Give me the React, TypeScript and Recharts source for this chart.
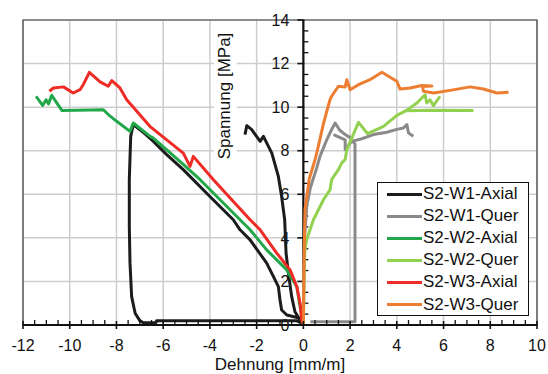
import React from "react";
import {
  LineChart,
  Line,
  XAxis,
  YAxis,
  CartesianGrid,
  ReferenceLine,
  ReferenceArea,
  Label,
} from "recharts";

type Pair = [number, number | null];

// Dehnung [mm/m] / Spannung [MPa]
const w1Axial: Pair[] = [
  [0, 0], [-0.14, 0.31], [-0.71, 0.46], [-0.93, 0.69], [-1.0, 1.15], [-1.07, 1.76],
  [-1.28, 2.22], [-1.57, 2.84], [-2.28, 3.91], [-2.71, 4.37], [-3.0, 4.83], [-4.0, 5.9],
  [-5.14, 7.13], [-5.85, 7.82], [-6.42, 8.43], [-6.8, 8.8], [-7.1, 9.05], [-7.28, 9.2],
  [-7.39, 8.66], [-7.45, 6.67], [-7.45, 4.5], [-7.42, 2.84], [-7.35, 1.3], [-7.2, 0.54],
  [-7.0, 0.2], [-6.85, 0.1], [-6.3, 0.12], [-6.28, 0.2], [-0.3, 0.2], [0, 0.05],
  [-0.14, 0.23], [-0.36, 0.61], [-0.5, 1.3], [-0.64, 2.38], [-0.74, 3.3], [-0.8, 4.83],
  [-0.93, 5.9], [-1.07, 6.82], [-1.35, 7.89], [-1.71, 8.66], [-1.85, 8.43], [-2.21, 8.97],
  [-2.42, 9.15], [-2.5, 8.74],
];

const w1Quer: Pair[] = [
  [0, 0], [0.02, 2.0], [0.05, 4.0], [0.15, 5.5], [0.3, 6.3], [0.43, 6.74], [0.57, 7.2],
  [0.71, 7.74], [1.0, 8.5], [1.2, 8.95], [1.36, 9.27], [1.55, 8.95], [1.79, 8.74],
  [2.0, 8.6], [2.21, 8.3], [2.21, 0.15], [0.3, 0.15], [0.3, null],
  [1.29, 8.74], [1.79, 8.5], [1.79, 8.05], [2.07, 8.43], [2.5, 8.55], [3.0, 8.74],
  [3.57, 8.85], [4.0, 8.98], [4.28, 9.04], [4.43, 9.2], [4.5, 8.81], [4.71, 8.66],
];

const w2Axial: Pair[] = [
  [0, 0], [-0.14, 0.84], [-0.28, 1.76], [-0.71, 2.53], [-1.57, 3.45], [-2.28, 4.37],
  [-2.71, 4.83], [-4.42, 6.67], [-5.2, 7.43], [-6.42, 8.58], [-6.56, 8.66], [-7.28, 9.27],
  [-7.42, 8.89], [-7.99, 9.35], [-8.35, 9.66], [-8.56, 9.88], [-10.34, 9.85], [-10.77, 10.54],
  [-10.91, 10.15], [-11.01, 10.34], [-11.16, 10.08], [-11.44, 10.5],
];

const w2Quer: Pair[] = [
  [0, 0], [0.03, 2.0], [0.05, 3.0], [0.07, 3.45], [0.14, 3.91], [0.43, 4.83], [0.86, 5.75],
  [1.14, 6.2], [1.21, 6.67], [1.5, 7.13], [1.64, 7.43], [1.79, 7.6], [1.86, 8.05],
  [2.36, 9.3], [2.75, 8.78], [3.43, 9.12], [4.0, 9.62], [4.4, 9.84], [4.86, 10.19],
  [5.21, 10.57], [5.28, 10.19], [5.42, 10.34], [5.57, 10.07], [5.85, 10.5], [5.85, null],
  [4.4, 9.84], [5.5, 9.86], [7.28, 9.85],
];

const w3Axial: Pair[] = [
  [0, 0], [-0.07, 0.23], [-0.14, 1.0], [-0.28, 1.76], [-0.57, 2.53], [-1.14, 3.3],
  [-1.85, 4.37], [-2.28, 4.83], [-3.85, 6.67], [-4.71, 7.74], [-4.85, 7.28], [-5.14, 7.89],
  [-6.57, 9.12], [-7.56, 10.34], [-7.85, 10.88], [-8.2, 11.22], [-8.35, 10.96], [-8.7, 11.16],
  [-9.16, 11.6], [-9.42, 11.03], [-9.56, 10.8], [-9.85, 10.65], [-10.27, 10.93], [-10.7, 10.88],
  [-10.87, 10.73],
];

const w3Quer: Pair[] = [
  [0, 0], [0.03, 3.0], [0.07, 5.29], [0.25, 6.7], [0.5, 7.59], [0.64, 8.2], [0.85, 9.2],
  [1.0, 9.8], [1.14, 10.34], [1.21, 10.5], [1.5, 10.96], [1.79, 10.93], [1.86, 11.26],
  [2.0, 10.8], [2.36, 11.03], [2.85, 11.26], [3.36, 11.6], [4.0, 11.19], [4.14, 10.83],
  [4.57, 10.88], [5.07, 10.99], [5.5, 10.97], [5.1, 10.95], [5.14, 10.73], [5.57, 10.65],
  [6.28, 10.77], [7.14, 10.93], [7.71, 10.83], [8.28, 10.65], [8.78, 10.68],
];

const seriesNames = [
  "S2-W1-Axial",
  "S2-W1-Quer",
  "S2-W2-Axial",
  "S2-W2-Quer",
  "S2-W3-Axial",
  "S2-W3-Quer",
];
const seriesData = [w1Axial, w1Quer, w2Axial, w2Quer, w3Axial, w3Quer];
const colors = ["#1c1c1c", "#8a8a8a", "#22a84a", "#92d050", "#ee2b24", "#ed7d31"];

const xMajor = [-12, -10, -8, -6, -4, -2, 0, 2, 4, 6, 8, 10];
const yMajor = [0, 2, 4, 6, 8, 10, 12, 14];
const xDomain: [number, number] = [-12, 10];
const yDomain: [number, number] = [0, 14];
const minorStep = 0.5;

const xTicks: number[] = [];
for (let v = xDomain[0]; v <= xDomain[1]; v += minorStep) xTicks.push(v);
const yTicks: number[] = [];
for (let v = yDomain[0]; v <= yDomain[1]; v += minorStep) yTicks.push(v);

const font = "'Liberation Sans', Arial, sans-serif";

function XTick(props: any) {
  const { x, y, payload } = props;
  const v = payload.value;
  const major = xMajor.includes(v);
  return (
    <g>
      {major ? (
        <line x1={x} x2={x} y1={y - 4} y2={y + 4} stroke="#111" strokeWidth={1.6} />
      ) : (
        <line x1={x} x2={x} y1={y - 5} y2={y} stroke="#111" strokeWidth={1.3} />
      )}
      {major && (
        <text x={x} y={y + 26} textAnchor="middle" fontSize={16} fontFamily={font} fill="#111">
          {String(v)}
        </text>
      )}
    </g>
  );
}

function XTitle(props: any) {
  const vb = props.viewBox;
  return (
    <text
      x={vb.x + vb.width / 2}
      y={vb.y + 44.5}
      textAnchor="middle"
      fontSize={17}
      fontFamily={font}
      fill="#111"
    >
      Dehnung [mm/m]
    </text>
  );
}

// y axis sits at x = 0, drawn on the reference line
function ZeroAxis(props: any) {
  const { x1, y1, y2 } = props;
  const top = Math.min(y1, y2);
  const bottom = Math.max(y1, y2);
  const toPx = (v: number) =>
    bottom - ((bottom - top) * (v - yDomain[0])) / (yDomain[1] - yDomain[0]);
  const lx = x1 - 73.5;
  const ly = top + 76;
  return (
    <g>
      <rect x={lx - 16} y={ly - 66} width={23} height={132} fill="#fff" />
      <text
        x={lx}
        y={ly}
        transform={`rotate(-90 ${lx} ${ly})`}
        textAnchor="middle"
        fontSize={17}
        fontFamily={font}
        fill="#111"
      >
        Spannung [MPa]
      </text>
      <line x1={x1} x2={x1} y1={top} y2={bottom} stroke="#111" strokeWidth={2.2} />
      {yTicks.map((v) => {
        const py = toPx(v);
        const major = yMajor.includes(v);
        return major ? (
          <g key={v}>
            <line x1={x1 - 6} x2={x1 + 1} y1={py} y2={py} stroke="#111" strokeWidth={1.6} />
            <text
              x={x1 - 14}
              y={py}
              dy="0.36em"
              textAnchor="end"
              fontSize={16}
              fontFamily={font}
              fill="#111"
            >
              {v}
            </text>
          </g>
        ) : (
          <line key={v} x1={x1} x2={x1 + 5} y1={py} y2={py} stroke="#111" strokeWidth={1.3} />
        );
      })}
    </g>
  );
}

export default function App() {
  const lines = seriesData.map((d) => d.map(([x, y]) => ({ x, y })));

  return (
    <div style={{ position: "absolute", left: 0, top: 0, width: 548, height: 374, background: "#fff" }}>
      <LineChart
        width={548}
        height={374}
        margin={{ top: 20, right: 11, bottom: 19, left: 23 }}
      >
        <CartesianGrid
          verticalValues={xMajor}
          horizontalValues={yMajor}
          stroke="#cdcdcd"
          strokeWidth={1.5}
        />
        <ReferenceArea
          x1={xDomain[0]}
          x2={xDomain[1]}
          y1={yDomain[0]}
          y2={yDomain[1]}
          fill="none"
          stroke="#404040"
          strokeWidth={1.2}
        />
        <XAxis
          dataKey="x"
          type="number"
          domain={xDomain}
          ticks={xTicks}
          interval={0}
          allowDataOverflow
          height={30}
          tickSize={0}
          tickMargin={0}
          tickLine={false}
          tick={<XTick />}
          axisLine={{ stroke: "#111", strokeWidth: 2.2 }}
        >
          <Label content={<XTitle />} />
        </XAxis>
        <YAxis type="number" domain={yDomain} hide allowDataOverflow />
        <ReferenceLine x={0} shape={<ZeroAxis />} />
        {lines.map((d, i) => (
          <Line
            key={seriesNames[i]}
            data={d}
            dataKey="y"
            name={seriesNames[i]}
            type="linear"
            stroke={colors[i]}
            strokeWidth={3}
            strokeLinejoin="round"
            dot={false}
            activeDot={false}
            isAnimationActive={false}
          />
        ))}
      </LineChart>
      <div
        style={{
          position: "absolute",
          left: 377,
          top: 182,
          width: 152,
          height: 134,
          boxSizing: "border-box",
          border: "1px solid #111",
          background: "#fff",
          fontFamily: font,
          fontSize: 17,
          color: "#111",
        }}
      >
        {seriesNames.map((name, i) => (
          <div
            key={name}
            style={{
              position: "absolute",
              left: 9,
              top: 1 + i * 22.1,
              height: 20,
              display: "flex",
              alignItems: "center",
              whiteSpace: "nowrap",
            }}
          >
            <span style={{ display: "inline-block", width: 35, height: 3, background: colors[i] }} />
            <span style={{ marginLeft: 1 }}>{name}</span>
          </div>
        ))}
      </div>
    </div>
  );
}
